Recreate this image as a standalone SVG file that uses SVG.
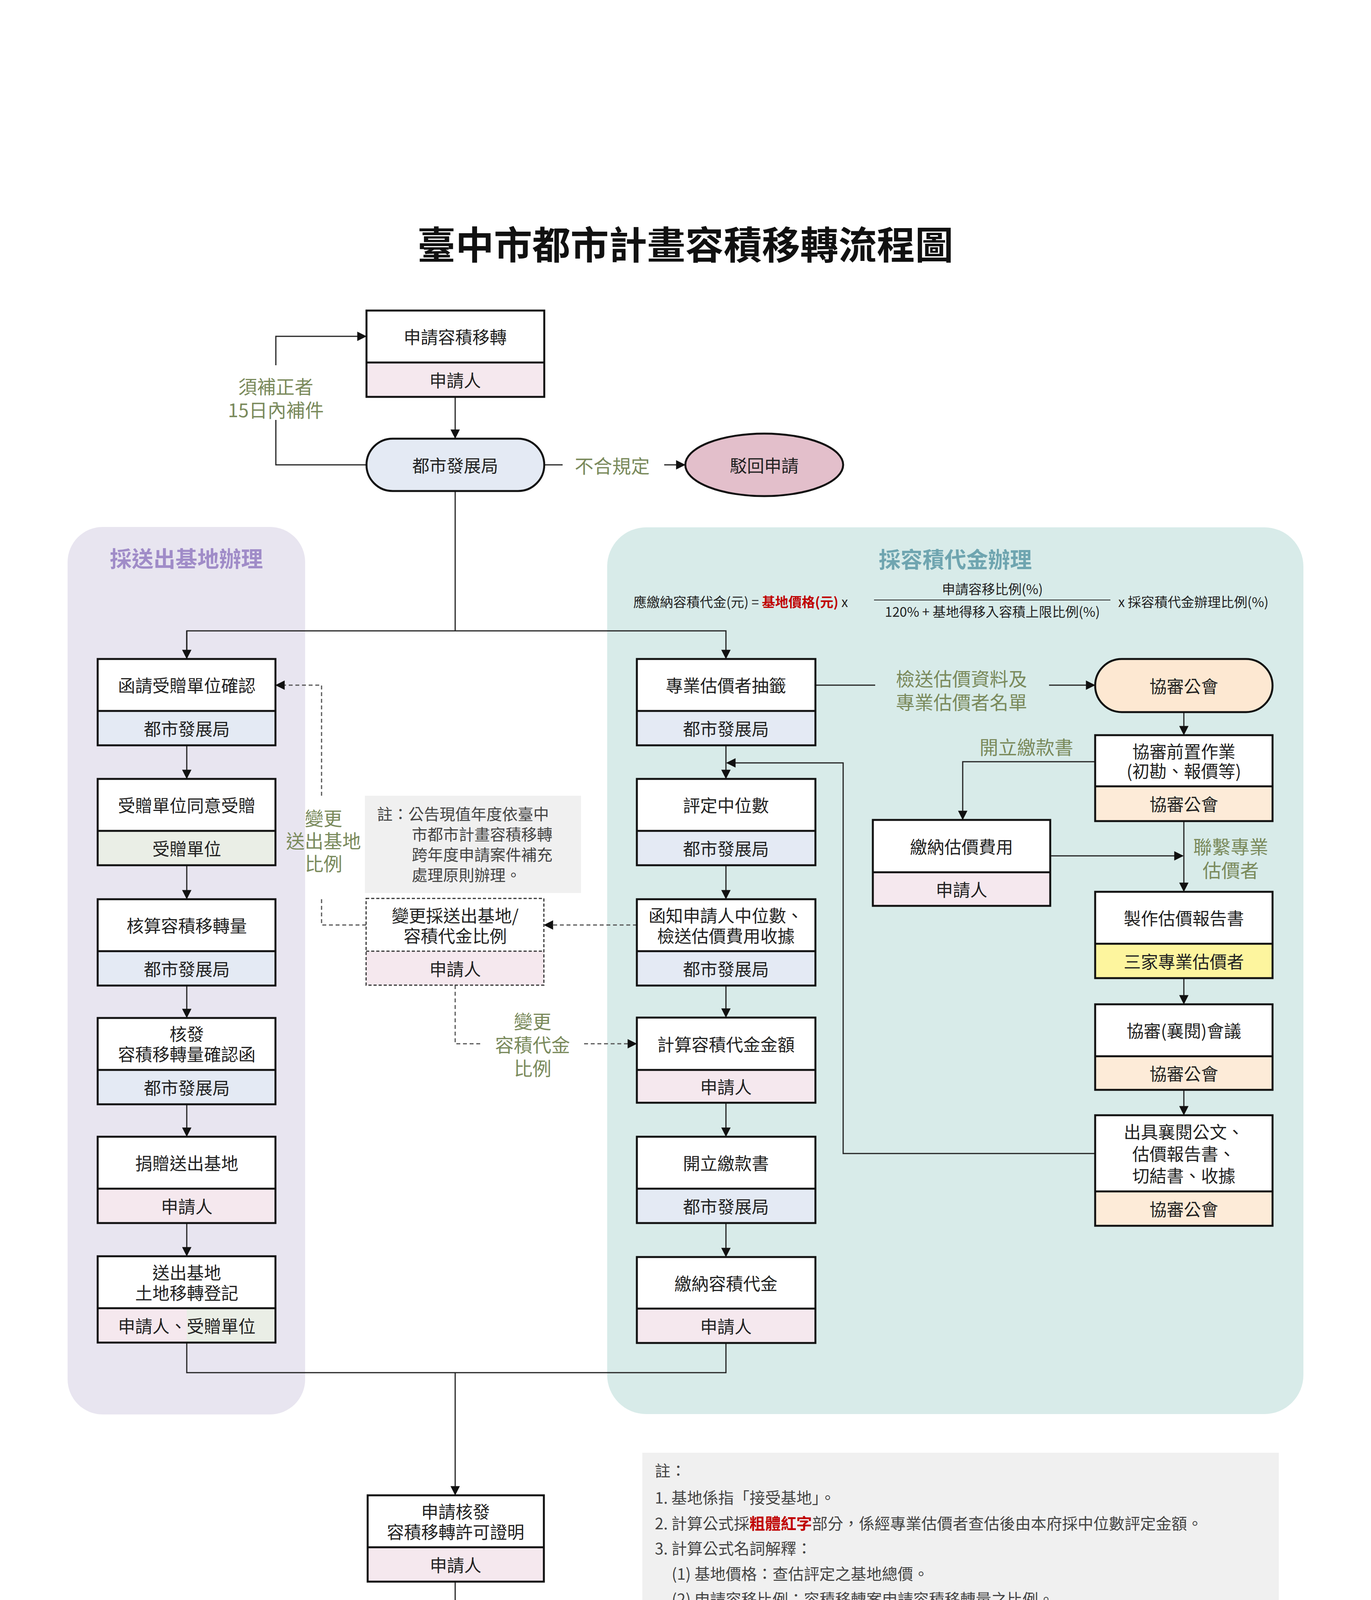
<svg xmlns="http://www.w3.org/2000/svg" width="3509" height="4961" viewBox="0 0 3509 4961">
<style>
text{font-family:"Noto Sans CJK TC","Noto Sans CJK SC",sans-serif;dominant-baseline:central;text-anchor:middle}
.t{font-size:44px;fill:#222}
.b{fill:none;stroke:#111;stroke-width:5}
.dv{stroke:#111;stroke-width:5}
.w{fill:#fff}
.city{fill:#e4eaf4}.app{fill:#f5e8ee}.rec{fill:#eaeee6}.assoc{fill:#fdebd8}.yel{fill:#fdf59e}
.lbl{font-size:48px;fill:#7a8a5c}
.c{fill:none;stroke:#222;stroke-width:3}
.d{fill:none;stroke:#555;stroke-width:3;stroke-dasharray:10 7}
.n{font-size:40px;fill:#444;text-anchor:start}
</style>
<defs>
<marker id="ar" viewBox="0 0 10 10" refX="10" refY="5" markerWidth="10" markerHeight="10" markerUnits="userSpaceOnUse" orient="auto"><path d="M0,0L10,5L0,10z" fill="#111" transform="scale(1)"/></marker>
<marker id="a" viewBox="0 0 10 10" refX="9" refY="5" markerWidth="8" markerHeight="8" orient="auto"><path d="M0,0L10,5L0,10z" fill="#111"/></marker>
</defs>
<rect width="3509" height="4961" fill="#fff"/>
<text x="1754" y="620" style="font-size:98px;font-weight:bold;fill:#111">臺中市都市計畫容積移轉流程圖</text>

<!-- panels -->
<rect x="173" y="1349" width="608" height="2272" rx="90" fill="#e8e5f0"/>
<rect x="1554" y="1350" width="1782" height="2270" rx="100" fill="#d8ebe9"/>
<text x="477" y="1426" style="font-size:56px;font-weight:bold;fill:#a08cc8">採送出基地辦理</text>
<text x="2445" y="1428" style="font-size:56px;font-weight:bold;fill:#6fa5b0">採容積代金辦理</text>
<g id="formula" style="font-size:34px">
<text x="1621" y="1539" style="text-anchor:start;fill:#222">應繳納容積代金(元) = <tspan fill="#c00000" font-weight="bold">基地價格(元)</tspan> x</text>
<line x1="2237" y1="1536" x2="2842" y2="1536" stroke="#222" stroke-width="2"/>
<text x="2540" y="1506" style="fill:#222">申請容移比例(%)</text>
<text x="2540" y="1564" style="fill:#222">120% + 基地得移入容積上限比例(%)</text>
<text x="2862" y="1539" style="text-anchor:start;fill:#222">x 採容積代金辦理比例(%)</text>
</g>

<!-- connectors -->
<g id="connectors">
<path class="c" d="M1165,1016V1121" marker-end="url(#a)"/>
<path class="c" d="M938,1190H706V1075M706,935V861H936" marker-end="url(#a)"/>
<text class="lbl" x="706" y="987">須補正者</text>
<text class="lbl" x="706" y="1047">15日內補件</text>
<path class="c" d="M1393,1190H1440"/>
<text class="lbl" x="1567" y="1190">不合規定</text>
<path class="c" d="M1700,1190H1752" marker-end="url(#a)"/>
<path class="c" d="M1165,1257V1615"/>
<path class="c" d="M478,1685V1615H1858V1685" marker-end="url(#a)"/>
<path class="c" d="M478,1615V1685" marker-end="url(#a)"/>
<path class="c" d="M478,1908V1992" marker-end="url(#a)"/>
<path class="c" d="M478,2215V2300" marker-end="url(#a)"/>
<path class="c" d="M478,2522V2604" marker-end="url(#a)"/>
<path class="c" d="M478,2827V2908" marker-end="url(#a)"/>
<path class="c" d="M478,3131V3214" marker-end="url(#a)"/>
<path class="c" d="M1858,1908V1992" marker-end="url(#a)"/>
<path class="c" d="M1858,2215V2300" marker-end="url(#a)"/>
<path class="c" d="M1858,2522V2603" marker-end="url(#a)"/>
<path class="c" d="M1858,2823V2908" marker-end="url(#a)"/>
<path class="c" d="M1858,3131V3216" marker-end="url(#a)"/>
<path class="c" d="M2087,1754H2240"/>
<text class="lbl" x="2461" y="1735">檢送估價資料及</text>
<text class="lbl" x="2461" y="1795">專業估價者名單</text>
<path class="c" d="M2685,1754H2801" marker-end="url(#a)"/>
<path class="c" d="M3030,1823V1880" marker-end="url(#a)"/>
<path class="c" d="M2803,1950H2464V2097" marker-end="url(#a)"/>
<text class="lbl" x="2627" y="1910">開立繳款書</text>
<path class="c" d="M3030,2102V2281" marker-end="url(#a)"/>
<text class="lbl" x="3150" y="2165">聯繫專業</text>
<text class="lbl" x="3150" y="2225">估價者</text>
<path class="c" d="M2688,2191H3027" marker-end="url(#a)"/>
<path class="c" d="M3030,2504V2569" marker-end="url(#a)"/>
<path class="c" d="M3030,2790V2853" marker-end="url(#a)"/>
<path class="c" d="M2803,2953H2158V1953H1861" marker-end="url(#a)"/>
<path class="d" d="M1630,2368H1394" marker-end="url(#a)"/>
<path class="d" d="M937,2368H823V2299M823,2037V1754H707" marker-end="url(#a)"/>
<text class="lbl" x="828" y="2092">變更</text>
<text class="lbl" x="828" y="2150">送出基地</text>
<text class="lbl" x="828" y="2208">比例</text>
<path class="d" d="M1165,2522V2672H1230"/>
<text class="lbl" x="1363" y="2612">變更</text>
<text class="lbl" x="1363" y="2672">容積代金</text>
<text class="lbl" x="1363" y="2732">比例</text>
<path class="d" d="M1495,2672H1628" marker-end="url(#a)"/>
<path class="c" d="M478,3436V3514H1858V3438"/>
<path class="c" d="M1165,3514V3826" marker-end="url(#a)"/>
<path class="c" d="M1165,4049V4140" marker-end="url(#a)"/>
</g>

<!-- top nodes -->
<g id="n-apply">
<rect x="938" y="795" width="455" height="133" class="w"/><rect x="938" y="928" width="455" height="88" class="app"/>
<rect x="938" y="795" width="455" height="221" class="b"/><line x1="938" y1="928" x2="1393" y2="928" class="dv"/>
<text class="t" x="1165" y="861">申請容積移轉</text><text class="t" x="1165" y="972">申請人</text>
</g>
<g id="n-city">
<rect x="938" y="1123" width="455" height="134" rx="67" fill="#e4eaf4" stroke="#111" stroke-width="5"/>
<text class="t" x="1165" y="1190">都市發展局</text>
</g>
<g id="n-reject">
<ellipse cx="1956" cy="1190" rx="202" ry="80" fill="#e3bfcb" stroke="#111" stroke-width="5"/>
<text class="t" x="1956" y="1190">駁回申請</text>
</g>

<!-- left column -->
<g id="l1"><rect x="250" y="1687" width="455" height="133" class="w"/><rect x="250" y="1820" width="455" height="88" class="city"/><rect x="250" y="1687" width="455" height="221" class="b"/><line x1="250" y1="1820" x2="705" y2="1820" class="dv"/>
<text class="t" x="478" y="1753">函請受贈單位確認</text><text class="t" x="478" y="1864">都市發展局</text></g>
<g id="l2"><rect x="250" y="1994" width="455" height="133" class="w"/><rect x="250" y="2127" width="455" height="88" class="rec"/><rect x="250" y="1994" width="455" height="221" class="b"/><line x1="250" y1="2127" x2="705" y2="2127" class="dv"/>
<text class="t" x="478" y="2060">受贈單位同意受贈</text><text class="t" x="478" y="2171">受贈單位</text></g>
<g id="l3"><rect x="250" y="2302" width="455" height="133" class="w"/><rect x="250" y="2435" width="455" height="88" class="city"/><rect x="250" y="2302" width="455" height="221" class="b"/><line x1="250" y1="2435" x2="705" y2="2435" class="dv"/>
<text class="t" x="478" y="2368">核算容積移轉量</text><text class="t" x="478" y="2479">都市發展局</text></g>
<g id="l4"><rect x="250" y="2606" width="455" height="133" class="w"/><rect x="250" y="2739" width="455" height="88" class="city"/><rect x="250" y="2606" width="455" height="221" class="b"/><line x1="250" y1="2739" x2="705" y2="2739" class="dv"/>
<text class="t" x="478" y="2645">核發</text><text class="t" x="478" y="2697">容積移轉量確認函</text><text class="t" x="478" y="2783">都市發展局</text></g>
<g id="l5"><rect x="250" y="2910" width="455" height="133" class="w"/><rect x="250" y="3043" width="455" height="88" class="app"/><rect x="250" y="2910" width="455" height="221" class="b"/><line x1="250" y1="3043" x2="705" y2="3043" class="dv"/>
<text class="t" x="478" y="2976">捐贈送出基地</text><text class="t" x="478" y="3087">申請人</text></g>
<g id="l6"><rect x="250" y="3216" width="455" height="133" class="w"/><rect x="250" y="3349" width="228" height="88" class="app"/><rect x="478" y="3349" width="227" height="88" class="rec"/><rect x="250" y="3216" width="455" height="221" class="b"/><line x1="250" y1="3349" x2="705" y2="3349" class="dv"/>
<text class="t" x="478" y="3256">送出基地</text><text class="t" x="478" y="3308">土地移轉登記</text><text class="t" x="478" y="3393">申請人、受贈單位</text></g>

<!-- middle note and dashed node -->
<g id="note1">
<rect x="934" y="2037" width="553" height="249" fill="#f0f0f0"/>
<text class="n" x="965" y="2082">註：公告現值年度依臺中</text>
<text class="n" x="1054" y="2134">市都市計畫容積移轉</text>
<text class="n" x="1054" y="2186">跨年度申請案件補充</text>
<text class="n" x="1054" y="2238">處理原則辦理。</text>
</g>
<g id="m-change">
<rect x="937" y="2300" width="455" height="135" fill="#fff"/><rect x="937" y="2435" width="455" height="87" class="app"/>
<rect x="937" y="2300" width="455" height="222" fill="none" stroke="#333" stroke-width="3" stroke-dasharray="8 5"/>
<line x1="937" y1="2435" x2="1392" y2="2435" stroke="#333" stroke-width="3" stroke-dasharray="8 5"/>
<text class="t" x="1165" y="2342">變更採送出基地/</text><text class="t" x="1165" y="2394">容積代金比例</text><text class="t" x="1165" y="2479">申請人</text>
</g>

<!-- right-middle column -->
<g id="r1"><rect x="1630" y="1687" width="457" height="133" class="w"/><rect x="1630" y="1820" width="457" height="88" class="city"/><rect x="1630" y="1687" width="457" height="221" class="b"/><line x1="1630" y1="1820" x2="2087" y2="1820" class="dv"/>
<text class="t" x="1858" y="1753">專業估價者抽籤</text><text class="t" x="1858" y="1864">都市發展局</text></g>
<g id="r2"><rect x="1630" y="1994" width="457" height="133" class="w"/><rect x="1630" y="2127" width="457" height="88" class="city"/><rect x="1630" y="1994" width="457" height="221" class="b"/><line x1="1630" y1="2127" x2="2087" y2="2127" class="dv"/>
<text class="t" x="1858" y="2060">評定中位數</text><text class="t" x="1858" y="2171">都市發展局</text></g>
<g id="r3"><rect x="1630" y="2302" width="457" height="133" class="w"/><rect x="1630" y="2435" width="457" height="88" class="city"/><rect x="1630" y="2302" width="457" height="221" class="b"/><line x1="1630" y1="2435" x2="2087" y2="2435" class="dv"/>
<text class="t" x="1858" y="2342">函知申請人中位數、</text><text class="t" x="1858" y="2394">檢送估價費用收據</text><text class="t" x="1858" y="2479">都市發展局</text></g>
<g id="r4"><rect x="1630" y="2605" width="457" height="134" class="w"/><rect x="1630" y="2739" width="457" height="84" class="app"/><rect x="1630" y="2605" width="457" height="218" class="b"/><line x1="1630" y1="2739" x2="2087" y2="2739" class="dv"/>
<text class="t" x="1858" y="2672">計算容積代金金額</text><text class="t" x="1858" y="2781">申請人</text></g>
<g id="r5"><rect x="1630" y="2910" width="457" height="133" class="w"/><rect x="1630" y="3043" width="457" height="88" class="city"/><rect x="1630" y="2910" width="457" height="221" class="b"/><line x1="1630" y1="3043" x2="2087" y2="3043" class="dv"/>
<text class="t" x="1858" y="2976">開立繳款書</text><text class="t" x="1858" y="3087">都市發展局</text></g>
<g id="r6"><rect x="1630" y="3218" width="457" height="132" class="w"/><rect x="1630" y="3350" width="457" height="88" class="app"/><rect x="1630" y="3218" width="457" height="220" class="b"/><line x1="1630" y1="3350" x2="2087" y2="3350" class="dv"/>
<text class="t" x="1858" y="3284">繳納容積代金</text><text class="t" x="1858" y="3394">申請人</text></g>

<!-- far right column -->
<g id="x-assoc"><rect x="2803" y="1687" width="454" height="136" rx="68" fill="#fde8d2" stroke="#111" stroke-width="5"/>
<text class="t" x="3030" y="1755">協審公會</text></g>
<g id="x1"><rect x="2803" y="1882" width="454" height="131" class="w"/><rect x="2803" y="2013" width="454" height="89" class="assoc"/><rect x="2803" y="1882" width="454" height="220" class="b"/><line x1="2803" y1="2013" x2="3257" y2="2013" class="dv"/>
<text class="t" x="3030" y="1922">協審前置作業</text><text class="t" x="3030" y="1972">(初勘、報價等)</text><text class="t" x="3030" y="2057">協審公會</text></g>
<g id="x-pay"><rect x="2234" y="2099" width="454" height="134" class="w"/><rect x="2234" y="2233" width="454" height="86" class="app"/><rect x="2234" y="2099" width="454" height="220" class="b"/><line x1="2234" y1="2233" x2="2688" y2="2233" class="dv"/>
<text class="t" x="2461" y="2166">繳納估價費用</text><text class="t" x="2461" y="2276">申請人</text></g>
<g id="x2"><rect x="2803" y="2283" width="454" height="133" class="w"/><rect x="2803" y="2416" width="454" height="88" class="yel"/><rect x="2803" y="2283" width="454" height="221" class="b"/><line x1="2803" y1="2416" x2="3257" y2="2416" class="dv"/>
<text class="t" x="3030" y="2349">製作估價報告書</text><text class="t" x="3030" y="2460">三家專業估價者</text></g>
<g id="x3"><rect x="2803" y="2571" width="454" height="133" class="w"/><rect x="2803" y="2704" width="454" height="86" class="assoc"/><rect x="2803" y="2571" width="454" height="219" class="b"/><line x1="2803" y1="2704" x2="3257" y2="2704" class="dv"/>
<text class="t" x="3030" y="2637">協審(襄閱)會議</text><text class="t" x="3030" y="2747">協審公會</text></g>
<g id="x4"><rect x="2803" y="2855" width="454" height="195" class="w"/><rect x="2803" y="3050" width="454" height="88" class="assoc"/><rect x="2803" y="2855" width="454" height="283" class="b"/><line x1="2803" y1="3050" x2="3257" y2="3050" class="dv"/>
<text class="t" x="3030" y="2896">出具襄閱公文、</text><text class="t" x="3030" y="2952">估價報告書、</text><text class="t" x="3030" y="3008">切結書、收據</text><text class="t" x="3030" y="3094">協審公會</text></g>

<!-- bottom -->
<g id="b1"><rect x="941" y="3828" width="451" height="133" class="w"/><rect x="941" y="3961" width="451" height="88" class="app"/><rect x="941" y="3828" width="451" height="221" class="b"/><line x1="941" y1="3961" x2="1392" y2="3961" class="dv"/>
<text class="t" x="1166" y="3868">申請核發</text><text class="t" x="1166" y="3920">容積移轉許可證明</text><text class="t" x="1166" y="4005">申請人</text></g>
<g id="b2"><rect x="941" y="4142" width="451" height="133" class="w"/><rect x="941" y="4275" width="451" height="87" class="city"/><rect x="941" y="4142" width="451" height="220" class="b"/><line x1="941" y1="4275" x2="1392" y2="4275" class="dv"/>
<text class="t" x="1166" y="4182">核發</text><text class="t" x="1166" y="4234">容積移轉許可函</text><text class="t" x="1166" y="4318">都市發展局</text></g>

<g id="note2">
<rect x="1644" y="3719" width="1629" height="613" fill="#f0f0f0"/>
<text class="n" x="1676" y="3763">註：</text>
<text class="n" x="1676" y="3832">1. 基地係指「接受基地」。</text>
<text class="n" x="1676" y="3898">2. 計算公式採<tspan fill="#c00000" font-weight="bold">粗體紅字</tspan>部分，係經專業估價者查估後由本府採中位數評定金額。</text>
<text class="n" x="1676" y="3962">3. 計算公式名詞解釋：</text>
<text class="n" x="1719" y="4027">(1) 基地價格：查估評定之基地總價。</text>
<text class="n" x="1719" y="4092">(2) 申請容移比例：容積移轉案申請容積移轉量之比例。</text>
<text class="n" x="1719" y="4157">(3) 120%：基地容積獎勵上限。</text>
<text class="n" x="1719" y="4220">(4) 基地得移入容積上限比例：基地容積移轉上限。</text>
<text class="n" x="1719" y="4285">(5) 採容積代金辦理比例：容積移轉案採容積代金辦理比例。</text>
</g>
</svg>
